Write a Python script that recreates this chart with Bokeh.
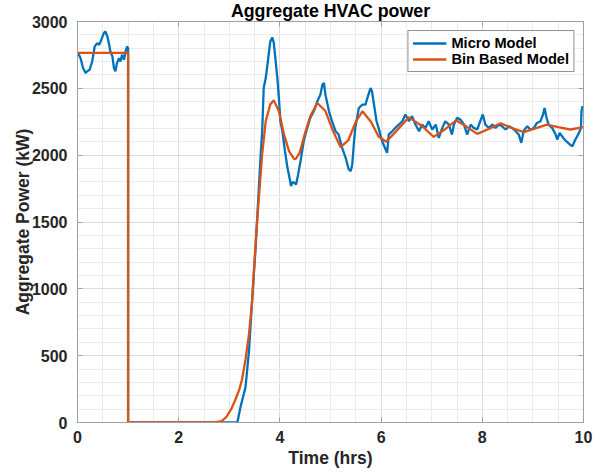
from bokeh.plotting import figure
from bokeh.models import (LinearAxis, SingleIntervalTicker, Range1d, Legend, LegendItem)
from bokeh.embed import file_html
from bokeh.resources import INLINE

# ---- data ----
micro_t = [0.0, 0.03, 0.06, 0.11, 0.16, 0.19, 0.24, 0.29, 0.34, 0.39, 0.43, 0.47, 0.52, 0.55, 0.59,
           0.62, 0.65, 0.69, 0.72, 0.75, 0.78, 0.82, 0.85, 0.88, 0.92, 0.95, 0.98, 1.0, 1.0,
           3.16, 3.22, 3.32, 3.39, 3.45, 3.52, 3.57, 3.62, 3.65, 3.68, 3.72, 3.77, 3.81, 3.85, 3.88,
           3.91, 3.95, 3.98, 4.01, 4.05, 4.1, 4.15, 4.19, 4.22, 4.25, 4.28, 4.32, 4.36, 4.41, 4.47,
           4.54, 4.6, 4.67, 4.74, 4.8, 4.84, 4.87, 4.9, 4.97, 5.03, 5.1, 5.16, 5.23, 5.3, 5.36, 5.4,
           5.43, 5.46, 5.49, 5.56, 5.63, 5.69, 5.73, 5.79, 5.82, 5.86, 5.91, 5.95, 6.02, 6.09, 6.12,
           6.15, 6.22, 6.28, 6.35, 6.42, 6.48, 6.55, 6.61, 6.68, 6.75, 6.81, 6.88, 6.94, 7.01, 7.08,
           7.14, 7.21, 7.27, 7.34, 7.4, 7.44, 7.5, 7.57, 7.64, 7.7, 7.77, 7.83, 7.9, 7.96, 8.01,
           8.06, 8.13, 8.2, 8.26, 8.33, 8.39, 8.46, 8.53, 8.59, 8.66, 8.72, 8.77, 8.82, 8.89, 8.95,
           9.02, 9.08, 9.15, 9.2, 9.23, 9.27, 9.31, 9.38, 9.45, 9.48, 9.53, 9.6, 9.66, 9.73, 9.78,
           9.84, 9.91, 9.95, 9.96, 9.98, 10.0]
micro_p = [2765, 2750, 2726, 2652, 2614, 2627, 2639, 2701, 2813, 2838, 2826, 2863, 2913, 2925, 2888,
           2838, 2776, 2739, 2652, 2627, 2689, 2726, 2701, 2751, 2714, 2776, 2813, 2800, 0,
           0, 114, 263, 537, 910, 1308, 1657, 2007, 2179, 2502, 2577, 2726, 2851, 2881, 2838,
           2726, 2577, 2428, 2254, 2179, 2030, 1905, 1831, 1769, 1800, 1793, 1781, 1856, 1960, 2104,
           2204, 2279, 2328, 2403, 2453, 2527, 2540, 2453, 2328, 2254, 2179, 2154, 2055, 1980, 1893, 1881,
           1930, 2080, 2204, 2353, 2378, 2378, 2428, 2502, 2478, 2378, 2254, 2204, 2104, 2042, 2017,
           2154, 2179, 2204, 2229, 2254, 2304, 2254, 2291, 2229, 2179, 2229, 2204, 2254, 2192, 2229,
           2129, 2204, 2254, 2229, 2154, 2229, 2279, 2266, 2229, 2154, 2229, 2204, 2192, 2254, 2304,
           2229, 2204, 2229, 2204, 2229, 2216, 2192, 2216, 2204, 2179, 2154, 2092, 2185, 2216, 2190,
           2204, 2241, 2254, 2304, 2353, 2279, 2229, 2204, 2154, 2117, 2166, 2129, 2104, 2080, 2067,
           2117, 2166, 2204, 2328, 2366, 2341]

bin_t = [0.0, 1.0, 1.0, 2.7, 2.85, 2.95, 3.05, 3.12, 3.2, 3.25, 3.32, 3.39, 3.45, 3.49, 3.55, 3.6,
         3.65, 3.72, 3.81, 3.88, 3.98, 4.08, 4.18, 4.28, 4.31, 4.39, 4.49, 4.6, 4.74, 4.9, 5.05,
         5.2, 5.35, 5.5, 5.63, 5.8, 5.95, 6.1, 6.3, 6.55, 6.8, 7.04, 7.25, 7.48, 7.7, 7.9, 8.15,
         8.36, 8.6, 8.82, 9.05, 9.28, 9.5, 9.74, 10.0]
bin_p = [2765, 2765, 0, 0, 10, 45, 110, 170, 250, 320, 470, 663, 900, 1159, 1507, 1760,
         2007, 2254, 2380, 2410, 2328, 2157, 2030, 1973, 1970, 2017, 2157, 2290, 2390, 2330, 2180,
         2060, 2110, 2250, 2328, 2250, 2140, 2100, 2180, 2283, 2220, 2137, 2190, 2261, 2210, 2159, 2200,
         2239, 2200, 2172, 2200, 2229, 2210, 2192, 2209]

BLUE = "#0072BD"
ORANGE = "#D95319"
FONT = "Liberation Sans"
TXT = "#262626"
AX = "#a0a0a0"

p = figure(frame_width=506, frame_height=401, output_backend="svg", toolbar_location=None,
           x_range=Range1d(0, 10), y_range=Range1d(0, 3000),
           title="Aggregate HVAC power",
           min_border_left=77, min_border_right=25, min_border_top=21, min_border_bottom=52)
p.background_fill_color = "white"
p.outline_line_color = AX
p.title.align = "center"
p.title.standoff = -6
p.title.offset = 0
p.title.text_font = FONT
p.title.text_font_style = "bold"
p.title.text_font_size = "17.8px"
p.title.text_color = "black"

for ax in (p.xaxis[0], p.yaxis[0]):
    ax.major_label_text_font = FONT
    ax.major_label_text_font_style = "bold"
    ax.major_label_text_font_size = "16px"
    ax.major_label_text_color = TXT
    ax.axis_label_text_font = FONT
    ax.axis_label_text_font_style = "bold"
    ax.axis_label_text_font_size = "17.5px"
    ax.axis_label_text_color = TXT
    ax.axis_line_color = AX
    ax.major_tick_line_color = AX
    ax.major_tick_in = 5
    ax.major_tick_out = 0
    ax.minor_tick_line_color = None

p.xaxis[0].ticker = SingleIntervalTicker(interval=2, num_minor_ticks=4)
p.yaxis[0].ticker = SingleIntervalTicker(interval=500, num_minor_ticks=5)
p.xaxis[0].axis_label = "Time (hrs)"
p.yaxis[0].axis_label = "Aggregate Power (kW)"
p.xaxis[0].major_label_standoff = 4
p.xaxis[0].axis_label_standoff = 2
p.yaxis[0].major_label_standoff = 6
p.yaxis[0].axis_label_standoff = -4

for loc, iv, nm in (("above", 2, 4), ("right", 500, 5)):
    a = LinearAxis(ticker=SingleIntervalTicker(interval=iv, num_minor_ticks=nm))
    a.major_label_text_font_size = "0px"
    a.major_label_standoff = 0
    a.axis_line_color = AX
    a.major_tick_line_color = AX
    a.major_tick_in = 5
    a.major_tick_out = 0
    a.minor_tick_line_color = None
    p.add_layout(a, loc)

p.xgrid.ticker = SingleIntervalTicker(interval=2, num_minor_ticks=4)
p.ygrid.ticker = SingleIntervalTicker(interval=500, num_minor_ticks=5)
for g in (p.xgrid[0], p.ygrid[0]):
    g.grid_line_color = "#dcdcdc"
    g.minor_grid_line_color = "#ececec"

r1 = p.line(micro_t, micro_p, line_color=BLUE, line_width=2.3)
r2 = p.line(bin_t, bin_p, line_color=ORANGE, line_width=2.3)

legend = Legend(items=[LegendItem(label="Micro Model", renderers=[r1]),
                       LegendItem(label="Bin Based Model", renderers=[r2])],
                location="top_right", margin=9, padding=4, spacing=0,
                glyph_width=34, glyph_height=14, label_height=14, label_standoff=5,
                label_text_font=FONT, label_text_font_style="bold", label_text_font_size="14.6px",
                label_text_color="black", border_line_color=TXT, border_line_width=1,
                background_fill_color="white", background_fill_alpha=1)
p.add_layout(legend, "center")

open("out.html", "w").write(file_html(p, INLINE))
